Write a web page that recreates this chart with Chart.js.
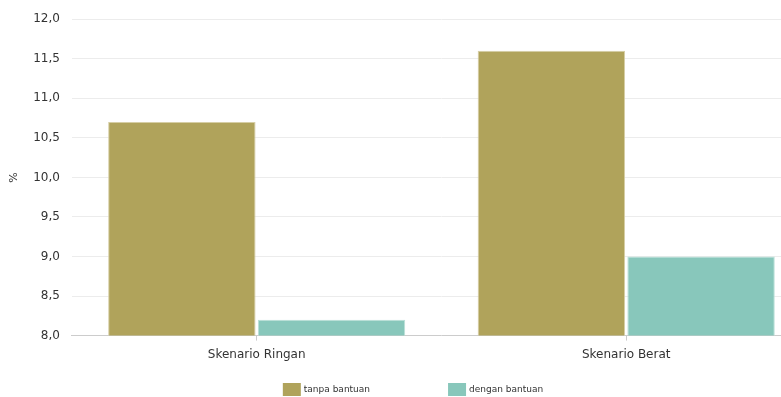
<!DOCTYPE html>
<html>
<head>
<meta charset="utf-8">
<script src="https://cdn.jsdelivr.net/npm/chart.js@4/dist/chart.umd.min.js"></script>
<style>
html,body{margin:0;padding:0;background:#fff;overflow:hidden;}
#wrap{position:relative;width:781px;height:397px;overflow:hidden;}
canvas{position:absolute;left:0;top:0;}
</style>
</head>
<body>
<div id="wrap"><canvas id="c" width="826" height="397"></canvas></div>
<script>
const categories = ['Skenario Ringan', 'Skenario Berat'];
const seriesNames = ['tanpa bantuan', 'dengan bantuan'];
const tanpaBantuan = [10.7, 11.6];
const denganBantuan = [8.2, 9.0];
const yMin = 8.0, yMax = 12.0, yStep = 0.5;
const yTitle = '%';

const FONT = "'DejaVu Sans', Verdana, sans-serif";

const legendPlugin = {
  id: 'customLegend',
  afterDraw(chart) {
    const ctx = chart.ctx;
    ctx.save();
    ctx.font = '9px ' + FONT;
    const boxW = 18, boxH = 13, gapText = 3, gapItems = 78;
    const items = chart.data.datasets.map(ds => ({
      label: ds.label, color: ds.backgroundColor,
      w: boxW + gapText + ctx.measureText(ds.label).width
    }));
    const total = items.reduce((a, it) => a + it.w, 0) + gapItems * (items.length - 1);
    let x = chart.width / 2 - total / 2;
    const yTop = 383;
    items.forEach(it => {
      ctx.fillStyle = it.color;
      ctx.fillRect(x, yTop, boxW, boxH);
      ctx.fillStyle = '#333';
      ctx.textBaseline = 'middle';
      ctx.textAlign = 'left';
      ctx.fillText(it.label, x + boxW + gapText, yTop + boxH / 2 + 0.5);
      x += it.w + gapItems;
    });
    ctx.restore();
  }
};

new Chart(document.getElementById('c'), {
  type: 'bar',
  data: {
    labels: categories,
    datasets: [
      { label: seriesNames[0], data: tanpaBantuan, backgroundColor: 'rgb(176,163,91)', borderColor: 'rgb(214,206,165)', borderWidth: 1, borderSkipped: false },
      { label: seriesNames[1], data: denganBantuan, backgroundColor: 'rgb(136,199,187)', borderColor: 'rgb(186,224,216)', borderWidth: 1, borderSkipped: false }
    ]
  },
  options: {
    responsive: false,
    animation: false,
    layout: { padding: { top: 16, left: 5, right: 15, bottom: 28 } },
    datasets: { bar: { categoryPercentage: 0.81, barPercentage: 0.985 } },
    plugins: { legend: { display: false }, tooltip: { enabled: false }, title: { display: false } },
    scales: {
      x: {
        grid: { offset: false, drawOnChartArea: false, color: '#ccc', tickLength: 5 },
        border: { color: '#ccc' },
        ticks: { color: '#333', font: { family: FONT, size: 12 }, padding: 7 }
      },
      y: {
        min: yMin, max: yMax,
        border: { display: false },
        grid: { color: '#ececec', drawTicks: false },
        ticks: {
          stepSize: yStep, color: '#333', padding: 12,
          font: { family: FONT, size: 12 },
          callback: v => v.toFixed(1).replace('.', ',')
        },
        title: { display: true, text: yTitle, color: '#333', font: { family: FONT, size: 11 }, padding: { top: 3, bottom: 0 } }
      }
    }
  },
  plugins: [legendPlugin]
});
</script>
</body>
</html>
